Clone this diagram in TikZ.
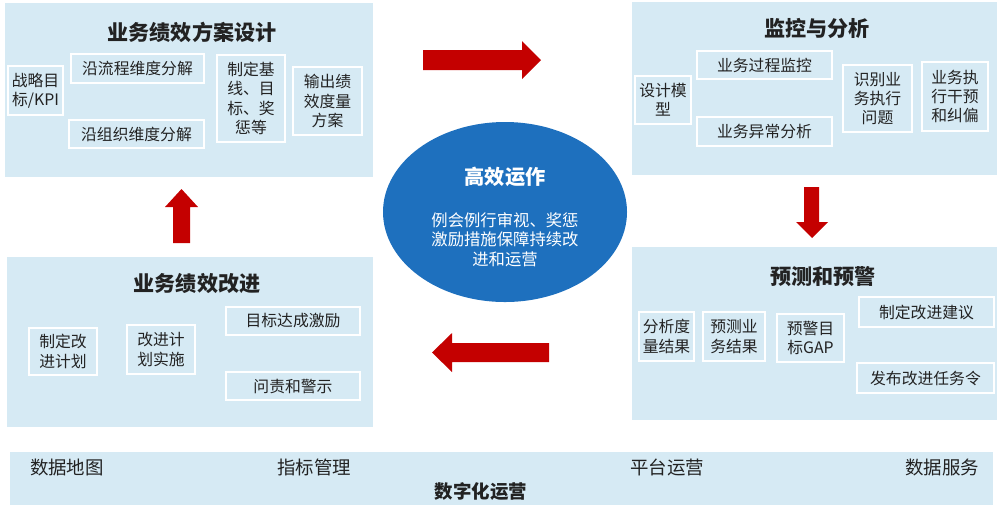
\documentclass[tikz,border=0pt]{standalone}
\usepackage{fontspec}
\setmainfont{Noto Sans CJK SC}
\usepackage{xcolor}
\usepackage{tikz}
\usetikzlibrary{shapes.geometric, positioning, calc}
\definecolor{opblue}{RGB}{214, 234, 244}
\definecolor{opcore}{RGB}{30, 112, 190}
\definecolor{opred}{RGB}{196, 0, 0}
\definecolor{optext}{RGB}{34, 34, 34}

\tikzset{
  panel/.style={fill=opblue, draw=none, inner sep=0pt},
  paneltitle/.style={text=optext, font=\bfseries\fontsize{12}{14}\selectfont, inner sep=0pt},
  cell/.style={fill=opblue, draw=white, line width=1.2pt, inner sep=0pt, align=center,
    text=optext, font=\fontsize{9}{11}\selectfont},
  core/.style={ellipse, fill=opcore, draw=none, inner sep=0pt},
  barlabel/.style={text=optext, font=\fontsize{10.5}{12}\selectfont, inner sep=0pt},
  redarrow/.style={fill=opred, draw=none}
}

\begin{document}
\begin{tikzpicture}[x=0.02cm, y=-0.02cm]
\useasboundingbox (0,0) rectangle (1000,512);

% Design panel (top left)
\node[panel, minimum width=368*0.02cm, minimum height=174*0.02cm] (design) at (189,90) {};
\node[paneltitle] (designtitle) at (192,32) {业务绩效方案设计};
\node[cell, minimum width=55*0.02cm, minimum height=49*0.02cm] (kpi) at (35.5,90.5) {战略目\\标/KPI};
\node[cell, minimum width=133*0.02cm, minimum height=29*0.02cm] (flow) at (137.5,68.5) {沿流程维度分解};
\node[cell, minimum width=135*0.02cm, minimum height=28*0.02cm] (org) at (136.5,134) {沿组织维度分解};
\node[cell, minimum width=68*0.02cm, minimum height=87*0.02cm] (base) at (251,98.5) {制定基\\线、目\\标、奖\\惩等};
\node[cell, minimum width=69*0.02cm, minimum height=68*0.02cm] (plan) at (327.5,101) {输出绩\\效度量\\方案};

% Monitor panel (top right)
\node[panel, minimum width=365*0.02cm, minimum height=173*0.02cm] (monitor) at (814.5,88.5) {};
\node[paneltitle] (monitortitle) at (817,28) {监控与分析};
\node[cell, minimum width=56*0.02cm, minimum height=48*0.02cm] (model) at (663,100) {设计模\\型};
\node[cell, minimum width=135*0.02cm, minimum height=28*0.02cm] (process) at (764.5,65) {业务过程监控};
\node[cell, minimum width=135*0.02cm, minimum height=29*0.02cm] (anomaly) at (764.5,131.5) {业务异常分析};
\node[cell, minimum width=69*0.02cm, minimum height=67*0.02cm] (issue) at (877.5,98.5) {识别业\\务执行\\问题};
\node[cell, minimum width=66*0.02cm, minimum height=69*0.02cm] (correct) at (955,96.5) {业务执\\行干预\\和纠偏};

% Improve panel (bottom left)
\node[panel, minimum width=366*0.02cm, minimum height=170*0.02cm] (improve) at (190,342) {};
\node[paneltitle] (improvetitle) at (197,283) {业务绩效改进};
\node[cell, minimum width=68*0.02cm, minimum height=47*0.02cm] (makeplan) at (63,351.5) {制定改\\进计划};
\node[cell, minimum width=68*0.02cm, minimum height=49*0.02cm] (doplan) at (161,349.5) {改进计\\划实施};
\node[cell, minimum width=134*0.02cm, minimum height=28*0.02cm] (reward) at (293,321) {目标达成激励};
\node[cell, minimum width=134*0.02cm, minimum height=28*0.02cm] (account) at (293,386) {问责和警示};

% Forecast panel (bottom right)
\node[panel, minimum width=365*0.02cm, minimum height=173*0.02cm] (forecast) at (814.5,333.5) {};
\node[paneltitle] (forecasttitle) at (823,277) {预测和预警};
\node[cell, minimum width=55*0.02cm, minimum height=49*0.02cm] (measure) at (666.5,336.5) {分析度\\量结果};
\node[cell, minimum width=62*0.02cm, minimum height=49*0.02cm] (predict) at (734,336.5) {预测业\\务结果};
\node[cell, minimum width=67*0.02cm, minimum height=48*0.02cm] (gap) at (810.5,338) {预警目\\标GAP};
\node[cell, minimum width=135*0.02cm, minimum height=30*0.02cm] (advice) at (926.5,312) {制定改进建议};
\node[cell, minimum width=137*0.02cm, minimum height=30*0.02cm] (order) at (925.5,378) {发布改进任务令};

% Core ellipse
\node[core, minimum width=244*0.02cm, minimum height=180*0.02cm] (hub) at (505,212) {};
\node[text=white, font=\bfseries\fontsize{11.5}{13}\selectfont, inner sep=0pt] (hubtitle) at (505,177) {高效运作};
\node[text=white, align=center, font=\fontsize{9.3}{11}\selectfont, inner sep=0pt, below=25*0.02cm of hubtitle] (hubtext)
  {例会例行审视、奖惩\\激励措施保障持续改\\进和运营};

% Block arrows
\fill[redarrow] (423,50) -- (522,50) -- (522,41) -- (541,60) -- (522,79) -- (522,70) -- (423,70) -- cycle;
\fill[redarrow] (549,343) -- (452,343) -- (452,333) -- (432,352.5) -- (452,372) -- (452,362) -- (549,362) -- cycle;
\fill[redarrow] (173,243) -- (173,207) -- (165,207) -- (181.5,189) -- (198,207) -- (190,207) -- (190,243) -- cycle;
\fill[redarrow] (804,187) -- (804,222) -- (796,222) -- (812,238) -- (828,222) -- (819,222) -- (819,187) -- cycle;

% Digital operation bar
\node[panel, minimum width=983*0.02cm, minimum height=53*0.02cm] (digital) at (501.5,478.5) {};
\node[barlabel] (datamap) at (67,467) {数据地图};
\node[barlabel] (metrics) at (314,467) {指标管理};
\node[barlabel] (platform) at (667,467) {平台运营};
\node[barlabel] (service) at (942,467) {数据服务};
\node[barlabel, font=\bfseries\fontsize{10.5}{12}\selectfont] (digitaltitle) at (481,492) {数字化运营};
\end{tikzpicture}
\end{document}
